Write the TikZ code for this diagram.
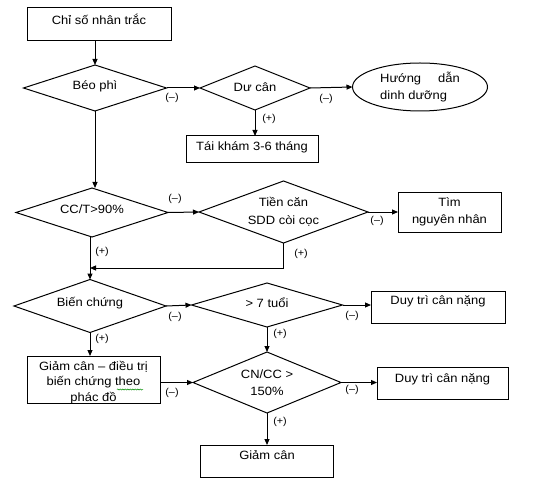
\documentclass[tikz,border=0pt]{standalone}
\usepackage{fontspec}
\setmainfont{Liberation Sans}[FakeStretch=1.08]
\usetikzlibrary{shapes.geometric,arrows.meta,decorations.pathmorphing}
\begin{document}
\begin{tikzpicture}[x=1pt,y=-1pt,
  line width=1pt,
  every node/.style={inner sep=0pt, outer sep=0pt},
  txt/.style={font=\fontsize{12}{17}\selectfont, align=center, text=black},
  sm/.style={font=\fontsize{10}{12}\selectfont, text=black},
  box/.style={draw, rectangle},
  dia/.style={draw, diamond},
  oval/.style={draw, ellipse},
  arr/.style={-{Triangle[length=6pt,width=5pt]}},
  squiggle/.style={draw=green!55!black, line width=0.5pt, decorate,
    decoration={snake, amplitude=0.6pt, segment length=2.5pt}}
]
\useasboundingbox (0,0) rectangle (553,486);

% nodes
\node[box, minimum width=144pt, minimum height=33pt,
  label={[txt,yshift=5.5pt]center:Chỉ số nhân trắc}] (top) at (99,24.5) {};
\node[dia, minimum width=143pt, minimum height=46pt,
  label={[txt,yshift=2pt]center:Béo phì}] (beo) at (95,88) {};
\node[dia, minimum width=110pt, minimum height=44pt,
  label={[txt,yshift=1pt]center:Dư cân}] (du) at (255,88) {};
\node[oval, minimum width=135pt, minimum height=48pt,
  label={[txt,align=left]center:Hướng\hspace*{17pt}dẫn\\dinh dưỡng}] (huong) at (420,87) {};
\node[box, minimum width=132pt, minimum height=27pt,
  label={[txt,yshift=2pt]center:Tái khám 3-6 tháng}] (taikham) at (252,149.5) {};

\node[dia, minimum width=152pt, minimum height=49pt,
  label={[txt,yshift=3pt]center:CC/T>90\%}] (cct) at (92,212.5) {};
\node[dia, minimum width=169pt, minimum height=62pt,
  label={[txt,font=\fontsize{12}{18}\selectfont]center:Tiền căn\\SDD còi cọc}] (tien) at (283.5,212) {};
\node[box, minimum width=103pt, minimum height=39pt,
  label={[txt,yshift=1pt]center:Tìm\\nguyên nhân}] (tim) at (449.5,212.5) {};

\node[dia, minimum width=152pt, minimum height=53pt,
  label={[txt,yshift=3pt]center:Biến chứng}] (bien) at (90,306) {};
\node[dia, minimum width=151pt, minimum height=44pt,
  label={[txt,yshift=2pt]center:> 7 tuổi}] (tuoi) at (267,305) {};
\node[box, minimum width=134pt, minimum height=32pt,
  label={[txt,yshift=6pt]center:Duy trì cân nặng}] (duytri1) at (438,307) {};

\node[box, minimum width=133pt, minimum height=47pt,
  label={[txt,font=\fontsize{12}{15.5}\selectfont,yshift=-3pt]center:Giảm cân – điều trị\\biến chứng theo\\phác đồ}] (giamdt) at (93.5,379.5) {};
\node[dia, minimum width=148pt, minimum height=61pt,
  label={[txt,font=\fontsize{12}{17.5}\selectfont]center:CN/CC >\\150\%}] (cncc) at (267,382.5) {};
\node[box, minimum width=131pt, minimum height=32pt,
  label={[txt,yshift=4pt]center:Duy trì cân nặng}] (duytri2) at (442.5,383) {};
\node[box, minimum width=133pt, minimum height=32pt,
  label={[txt,yshift=6pt]center:Giảm cân}] (giam) at (267,461) {};

\coordinate (j) at (90,268);

% spell-check underline under "theo"
\draw[squiggle] (117,389.5) -- (143,389.5);

% connectors
\draw[arr] (beo.north |- top.south) -- (beo.north);
\draw[arr] (beo.east) -- (du.west);
\draw[arr] (du.east) -- (huong.west);
\draw[arr] (du.south) -- (du.south |- taikham.north);
\draw[arr] (beo.south) -- (beo.south |- cct.north);
\draw[arr] (cct.east) -- (tien.west);
\draw[arr] (tien.east) -- (tien.east -| tim.west);
\draw[arr] (bien.north |- cct.south) -- (bien.north);
\draw[arr] (tien.south) |- (j);
\draw[arr] (bien.east) -- (tuoi.west);
\draw[arr] (tuoi.east) -- (tuoi.east -| duytri1.west);
\draw[arr] (tuoi.south) -- (cncc.north);
\draw[arr] (bien.south) -- (bien.south |- giamdt.north);
\draw[arr] (giamdt.east |- cncc.west) -- (cncc.west);
\draw[arr] (cncc.east) -- (cncc.east -| duytri2.west);
\draw[arr] (cncc.south) -- (giam.north);

% connector labels
\node[sm] (l1) at (172,98) {(–)};
\node[sm] (l2) at (326,99) {(–)};
\node[sm] (l3) at (269,119) {(+)};
\node[sm] (l4) at (175,199) {(–)};
\node[sm] (l5) at (377,221) {(–)};
\node[sm] (l6) at (102,252) {(+)};
\node[sm] (l7) at (301,254) {(+)};
\node[sm] (l8) at (175,317) {(–)};
\node[sm] (l9) at (352,316) {(–)};
\node[sm] (l10) at (280,334) {(+)};
\node[sm] (l11) at (102,339) {(+)};
\node[sm] (l12) at (172,393) {(–)};
\node[sm] (l13) at (352,390) {(–)};
\node[sm] (l14) at (280,422) {(+)};
\end{tikzpicture}
\end{document}
